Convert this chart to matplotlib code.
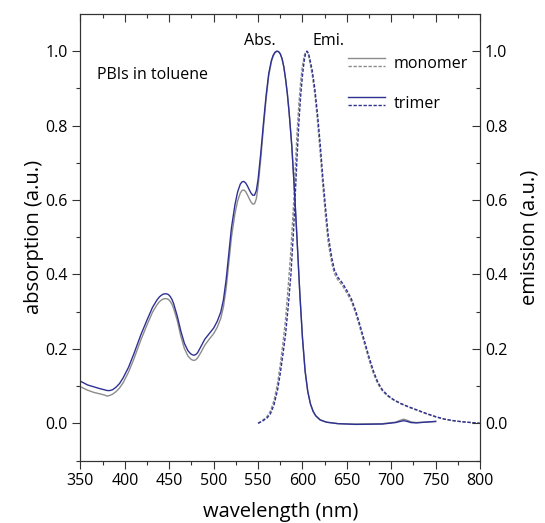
import matplotlib.pyplot as plt
from matplotlib.legend_handler import HandlerBase
from matplotlib.lines import Line2D

plt.rcParams['font.family'] = ['Open Sans', 'DejaVu Sans']

# absorption, wavelength grid shared by both samples
abs_wl = [350, 358, 365, 372, 377, 380, 383, 386, 390, 394, 398, 404, 410, 418, 425, 431,
          436, 439, 441, 443, 445, 447, 449, 451, 453, 455, 459, 463, 467, 471, 474, 476,
          478, 480, 482, 486, 490, 495, 500, 504, 508, 511, 514, 517, 520, 524, 527, 530,
          532, 534, 536, 538, 540, 542, 544, 546, 548, 550, 553, 556, 559, 562, 565, 567,
          569, 571, 573, 575, 577, 579, 581, 583, 585, 588, 591, 594, 597, 600, 603, 606,
          609, 612, 615, 620, 627, 640, 660, 690, 705, 710, 714, 718, 722, 728, 738, 750]
abs_trimer = [0.113, 0.103, 0.098, 0.093, 0.090, 0.088, 0.088, 0.090, 0.097, 0.107, 0.122,
              0.150, 0.186, 0.238, 0.278, 0.311, 0.331, 0.340, 0.344, 0.347, 0.348, 0.348,
              0.346, 0.341, 0.333, 0.321, 0.288, 0.248, 0.215, 0.195, 0.187, 0.184, 0.183,
              0.185, 0.190, 0.208, 0.226, 0.241, 0.256, 0.274, 0.299, 0.332, 0.385, 0.455,
              0.525, 0.588, 0.622, 0.643, 0.649, 0.650, 0.646, 0.638, 0.628, 0.619, 0.613,
              0.613, 0.625, 0.655, 0.725, 0.805, 0.880, 0.940, 0.975, 0.989, 0.997, 1.000,
              0.999, 0.993, 0.980, 0.958, 0.925, 0.885, 0.835, 0.745, 0.625, 0.490, 0.350,
              0.230, 0.140, 0.085, 0.052, 0.032, 0.020, 0.009, 0.003, -0.001, -0.003,
              -0.002, 0.002, 0.005, 0.007, 0.005, 0.002, 0.001, 0.003, 0.005]
abs_monomer = [0.098, 0.089, 0.083, 0.079, 0.076, 0.073, 0.075, 0.078, 0.085, 0.095, 0.109,
               0.137, 0.172, 0.224, 0.265, 0.298, 0.318, 0.327, 0.331, 0.334, 0.335, 0.335,
               0.333, 0.328, 0.320, 0.308, 0.276, 0.234, 0.201, 0.181, 0.173, 0.170, 0.169,
               0.171, 0.176, 0.192, 0.210, 0.226, 0.241, 0.258, 0.282, 0.313, 0.362, 0.430,
               0.500, 0.564, 0.598, 0.619, 0.626, 0.627, 0.623, 0.614, 0.604, 0.595, 0.589,
               0.590, 0.603, 0.636, 0.710, 0.793, 0.871, 0.934, 0.972, 0.987, 0.996, 1.000,
               0.999, 0.993, 0.980, 0.958, 0.925, 0.885, 0.835, 0.745, 0.625, 0.490, 0.350,
               0.230, 0.140, 0.085, 0.052, 0.032, 0.020, 0.009, 0.003, -0.001, -0.002,
               -0.001, 0.003, 0.008, 0.011, 0.008, 0.004, 0.002, 0.003, 0.005]

# emission
emi_wl = [550, 555, 560, 564, 568, 572, 575, 578, 581, 584, 587, 590, 592, 594, 596, 598,
          600, 602, 603.5, 605, 606.5, 608, 611, 614, 617, 620, 623, 626, 629, 633, 636, 640,
          645, 650, 655, 660, 665, 670, 675, 680, 685, 690, 696, 703, 711, 720, 730, 740,
          750, 760, 770, 780, 790, 800]
emi_trimer = [0.000, 0.006, 0.014, 0.026, 0.050, 0.090, 0.134, 0.185, 0.240, 0.315, 0.400,
              0.520, 0.620, 0.720, 0.810, 0.880, 0.935, 0.975, 0.993, 1.000, 0.996, 0.983,
              0.948, 0.898, 0.830, 0.750, 0.660, 0.580, 0.505, 0.445, 0.412, 0.392, 0.377,
              0.357, 0.335, 0.302, 0.262, 0.220, 0.178, 0.140, 0.110, 0.090, 0.075, 0.063,
              0.053, 0.044, 0.035, 0.026, 0.018, 0.011, 0.007, 0.004, 0.002, 0.000]
emi_monomer = [0.000, 0.008, 0.018, 0.033, 0.062, 0.108, 0.158, 0.215, 0.280, 0.370, 0.465,
               0.590, 0.690, 0.785, 0.860, 0.920, 0.962, 0.988, 0.998, 1.000, 0.992, 0.975,
               0.936, 0.882, 0.810, 0.725, 0.635, 0.555, 0.485, 0.430, 0.402, 0.385, 0.370,
               0.350, 0.328, 0.295, 0.254, 0.212, 0.170, 0.133, 0.105, 0.087, 0.073, 0.062,
               0.052, 0.043, 0.034, 0.025, 0.017, 0.011, 0.007, 0.004, 0.002, 0.000]

navy = '#2e3192'
grey = '#8c8c8c'
dash = (2.4, 1.2)


class StackedHandler(HandlerBase):
    # solid line above dashed line, one legend row
    def create_artists(self, legend, orig_handle, xdescent, ydescent, width, height, fontsize, trans):
        solid, dashed = orig_handle
        ym = height / 2 - ydescent
        l1 = Line2D([-xdescent, width - xdescent], [ym + 3.3, ym + 3.3],
                    color=solid.get_color(), lw=solid.get_linewidth(), transform=trans)
        l2 = Line2D([-xdescent, width - xdescent], [ym - 2.5, ym - 2.5],
                    color=dashed.get_color(), lw=dashed.get_linewidth(), transform=trans)
        l2.set_dashes(dash)
        return [l1, l2]


fig = plt.figure(figsize=(5.45, 5.23), dpi=100)
ax = fig.add_axes([0.1477, 0.1195, 0.7331, 0.8537])

m_abs, = ax.plot(abs_wl, abs_monomer, color=grey, lw=1.0)
m_emi, = ax.plot(emi_wl, emi_monomer, color=grey, lw=1.0, dashes=dash)
t_abs, = ax.plot(abs_wl, abs_trimer, color=navy, lw=1.0)
t_emi, = ax.plot(emi_wl, emi_trimer, color=navy, lw=1.0, dashes=dash)

ax.set_xlim(350, 800)
ax.set_ylim(-0.1, 1.1)
ax.set_xticks(range(350, 801, 50))
ax.set_xticks(range(375, 800, 50), minor=True)
ax.set_yticks([0, 0.2, 0.4, 0.6, 0.8, 1.0])
ax.set_yticks([-0.1, 0.1, 0.3, 0.5, 0.7, 0.9], minor=True)
ax.yaxis.set_major_formatter(plt.FormatStrFormatter('%.1f'))
ax.tick_params(which='both', direction='out', labelsize=11.5, color='#333333', width=0.8)
ax.tick_params(which='major', length=5.5)
ax.tick_params(which='minor', length=3)
ax.tick_params(top=True, which='both')
ax.set_xlabel('wavelength (nm)', fontsize=14.5, labelpad=9)
ax.set_ylabel('absorption (a.u.)', fontsize=14.5, labelpad=1)
for s in ax.spines.values():
    s.set_linewidth(0.8)
    s.set_color('#333333')

ax2 = ax.twinx()
ax2.set_ylim(-0.1, 1.1)
ax2.set_yticks([0, 0.2, 0.4, 0.6, 0.8, 1.0])
ax2.set_yticks([-0.1, 0.1, 0.3, 0.5, 0.7, 0.9], minor=True)
ax2.yaxis.set_major_formatter(plt.FormatStrFormatter('%.1f'))
ax2.tick_params(which='both', direction='in', labelsize=11.5, color='#333333', width=0.8)
ax2.tick_params(which='major', length=5.5)
ax2.tick_params(which='minor', length=3)
ax2.set_ylabel('emission (a.u.)', fontsize=14.5, labelpad=9)
for s in ax2.spines.values():
    s.set_linewidth(0.8)
    s.set_color('#333333')
# bottom ticks out, top ticks in: both point downwards
for t in ax.xaxis.get_major_ticks() + ax.xaxis.get_minor_ticks():
    t.tick1line.set_marker(3)
    t.tick2line.set_marker(3)

ax.text(369, 0.935, 'PBIs in toluene', fontsize=11.5, va='center', ha='left')
ax.text(552, 1.028, 'Abs.', fontsize=11.5, va='center', ha='center')
ax.text(629, 1.028, 'Emi.', fontsize=11.5, va='center', ha='center')

ax.legend([(m_abs, m_emi), (t_abs, t_emi)], ['monomer', 'trimer'],
          handler_map={tuple: StackedHandler()}, loc='upper left',
          bbox_to_anchor=(0.669, 0.905), frameon=False, fontsize=11.5,
          handlelength=2.3, handletextpad=0.55, labelspacing=1.45,
          borderpad=0, borderaxespad=0)

fig.savefig('out.png', dpi=100)
